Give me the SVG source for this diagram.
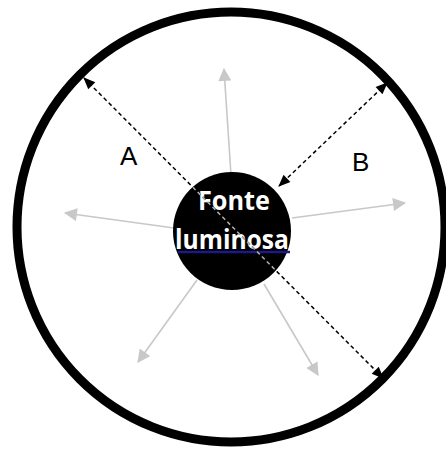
<svg xmlns="http://www.w3.org/2000/svg" width="446" height="452" viewBox="0 0 446 452">
<style>
.ray{stroke:#c8c8c8;stroke-width:1.6;fill:none}
.dim{stroke:#000;stroke-width:1.5;stroke-dasharray:4 3;fill:none}
.lbl{font-family:"Liberation Sans",Arial,sans-serif;font-size:26px;fill:#000}
.src{font-family:"Open Sans","Liberation Sans",sans-serif;font-weight:bold;font-size:26px;fill:#fff}
</style>
<defs>
<marker id="gray" viewBox="0 0 12 12" refX="11" refY="6" markerUnits="userSpaceOnUse" markerWidth="14" markerHeight="13" orient="auto">
<path d="M0,0 L12,6 L0,12 Z" fill="#c8c8c8"/>
</marker>
<marker id="blk" viewBox="0 0 12 10" refX="11" refY="5" markerUnits="userSpaceOnUse" markerWidth="13" markerHeight="10" orient="auto-start-reverse">
<path d="M0,0 L12,5 L0,10 Z" fill="#000"/>
</marker>
<clipPath id="disc"><circle cx="232" cy="231" r="59"/></clipPath>
</defs>
<rect width="446" height="452" fill="#fff"/>
<g id="boundary">
<ellipse cx="231" cy="227" rx="214" ry="215" fill="none" stroke="#000" stroke-width="9"/>
</g>
<g id="connectors">
<line class="ray" x1="231" y1="175" x2="224" y2="69" marker-end="url(#gray)"/>
<line class="ray" x1="174" y1="228" x2="65" y2="213" marker-end="url(#gray)"/>
<line class="ray" x1="292" y1="218" x2="405" y2="203" marker-end="url(#gray)"/>
<line class="ray" x1="197" y1="280" x2="138" y2="362" marker-end="url(#gray)"/>
<line class="ray" x1="264" y1="284" x2="318" y2="375" marker-end="url(#gray)"/>
</g>
<g id="source">
<circle cx="232" cy="231" r="59" fill="#000"/>
<text class="src" x="234" y="210" text-anchor="middle" textLength="72" lengthAdjust="spacingAndGlyphs">Fonte</text>
<text class="src" x="232" y="249" text-anchor="middle" textLength="114" lengthAdjust="spacingAndGlyphs">luminosa</text>
<line x1="178" y1="252" x2="290" y2="252" stroke="#1a1a8c" stroke-width="2.5"/>
</g>
<g id="dimensions">
<line class="dim" x1="84" y1="78" x2="383" y2="378" marker-start="url(#blk)" marker-end="url(#blk)"/>
<line class="dim" x1="84" y1="78" x2="383" y2="378" stroke="#b0b0b0" style="stroke:#b0b0b0" clip-path="url(#disc)"/>
<line class="dim" x1="387" y1="83" x2="279" y2="186" marker-start="url(#blk)" marker-end="url(#blk)"/>
</g>
<g id="labels">
<text class="lbl" x="120" y="165">A</text>
<text class="lbl" x="352" y="171">B</text>
</g>
</svg>
